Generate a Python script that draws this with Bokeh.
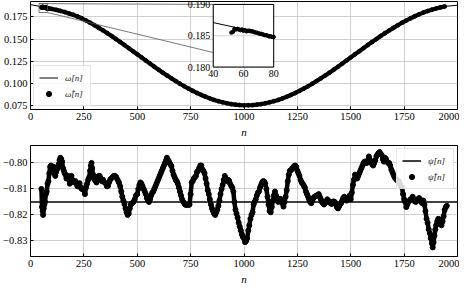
from bokeh.plotting import figure
from bokeh.layouts import column
from bokeh.models import Range1d, FixedTicker, Legend, LegendItem
from bokeh.embed import file_html
from bokeh.resources import INLINE
from bokeh.core.properties import value

# ---------------- data ----------------
# top panel: true frequency omega[n] (line) and estimate (dots)
omega_n = [0, 40, 80, 100, 150, 200, 250, 300, 350, 400, 450, 500, 550, 600, 650, 700,
           750, 800, 850, 900, 950, 1000, 1050, 1100, 1150, 1200, 1250, 1300, 1350, 1400,
           1450, 1500, 1550, 1600, 1650, 1700, 1750, 1800, 1850, 1900, 1950, 2000]
omega = [0.1888, 0.1871, 0.1850, 0.1840, 0.1812, 0.1774, 0.1722, 0.1656, 0.1582, 0.1501,
         0.1416, 0.1329, 0.1241, 0.1155, 0.1073, 0.0998, 0.0930, 0.0871, 0.0824, 0.0788,
         0.0765, 0.0755, 0.0759, 0.0777, 0.0808, 0.0851, 0.0905, 0.0969, 0.1042, 0.1122,
         0.1206, 0.1294, 0.1381, 0.1468, 0.1550, 0.1627, 0.1697, 0.1757, 0.1808, 0.1846,
         0.1871, 0.1882]

omega_hat_n = list(range(52, 81)) + [90] + list(range(100, 1941, 20))
omega_hat = [
    # n = 52 .. 80
    0.1855, 0.1856, 0.1861, 0.1860, 0.1861, 0.1860, 0.1859, 0.1860, 0.1858, 0.1859,
    0.1857, 0.1858, 0.1858, 0.1857, 0.1857, 0.1856, 0.1855, 0.1855, 0.1854, 0.1853,
    0.1853, 0.1852, 0.1851, 0.1851, 0.1850, 0.1849, 0.1849, 0.1848, 0.1848,
    # n = 90
    0.1844,
    # n = 100 .. 1000 step 20
    0.1840, 0.1830, 0.1818, 0.1805, 0.1790, 0.1774, 0.1756, 0.1735, 0.1710, 0.1684,
    0.1656, 0.1627, 0.1598, 0.1567, 0.1535, 0.1501, 0.1468, 0.1434, 0.1399, 0.1364,
    0.1329, 0.1294, 0.1259, 0.1224, 0.1189, 0.1155, 0.1122, 0.1090, 0.1058, 0.1028,
    0.0998, 0.0969, 0.0943, 0.0917, 0.0893, 0.0871, 0.0851, 0.0832, 0.0815, 0.0801,
    0.0788, 0.0777, 0.0768, 0.0762, 0.0757, 0.0755,
    # n = 1020 .. 1940 step 20
    0.0755, 0.0757, 0.0762, 0.0768, 0.0777, 0.0788, 0.0801, 0.0815, 0.0832, 0.0851,
    0.0871, 0.0893, 0.0917, 0.0943, 0.0969, 0.0998, 0.1028, 0.1058, 0.1090, 0.1122,
    0.1155, 0.1189, 0.1224, 0.1259, 0.1294, 0.1329, 0.1364, 0.1399, 0.1434, 0.1468,
    0.1501, 0.1535, 0.1567, 0.1598, 0.1627, 0.1656, 0.1684, 0.1710, 0.1735, 0.1758,
    0.1779, 0.1799, 0.1816, 0.1832, 0.1846, 0.1858, 0.1868,
]

# bottom panel: true phase psi[n] (constant line) and estimate (dots)
psi_value = -0.815
psi_hat_n = [
    51, 54, 57, 59, 62, 65, 68, 72, 76, 80,
    84, 88, 92, 96, 100, 104, 108, 112, 116, 120,
    124, 128, 132, 136, 140, 144, 148, 152, 156, 160,
    164, 168, 172, 176, 180, 184, 188, 192, 196, 200,
    205, 210, 215, 220, 225, 230, 235, 240, 245, 250,
    255, 260, 265, 270, 275, 279, 283, 286, 289, 293,
    297, 301, 305, 309, 314, 319, 324, 329, 334, 340,
    347, 353, 358, 363, 368, 373, 378, 384, 390, 396,
    402, 408, 414, 420, 425, 430, 435, 440, 445, 450,
    455, 460, 465, 470, 476, 482, 488, 494, 500, 505,
    510, 515, 520, 525, 530, 535, 540, 545, 550, 555,
    560, 565, 570, 575, 580, 585, 590, 595, 600, 605,
    610, 615, 620, 625, 630, 635, 639, 643, 647, 651,
    655, 660, 665, 670, 675, 680, 685, 690, 695, 700,
    705, 710, 716, 722, 728, 734, 740, 745, 750, 755,
    760, 765, 770, 775, 780, 785, 790, 795, 800, 805,
    810, 815, 820, 825, 830, 835, 840, 845, 850, 855,
    860, 865, 870, 875, 880, 885, 890, 895, 900, 905,
    910, 915, 920, 925, 930, 935, 940, 945, 950, 955,
    960, 965, 970, 975, 980, 985, 990, 995, 1000, 1005,
] + list(range(1010, 1860, 5)) + [
    1860, 1865, 1870, 1875, 1880, 1884, 1888, 1892, 1896, 1900,
    1905, 1910, 1915, 1920, 1925, 1930, 1935, 1940, 1945, 1950,
]
psi_hat = [
    -0.8100, -0.8170, -0.8185, -0.8200, -0.8175, -0.8160, -0.8150, -0.8120, -0.8110, -0.8080,
    -0.8070, -0.8040, -0.8015, -0.8010, -0.8020, -0.8030, -0.8015, -0.8040, -0.8050, -0.8035,
    -0.8025, -0.8015, -0.8005, -0.7990, -0.7980, -0.7985, -0.7995, -0.8020, -0.8030, -0.8040,
    -0.8045, -0.8060, -0.8055, -0.8050, -0.8065, -0.8080, -0.8060, -0.8050, -0.8065, -0.8070,
    -0.8075, -0.8070, -0.8080, -0.8090, -0.8080, -0.8078, -0.8095, -0.8100, -0.8098, -0.8105,
    -0.8120, -0.8095, -0.8080, -0.8065, -0.8055, -0.8030, -0.8010, -0.8000, -0.8020, -0.8045,
    -0.8060, -0.8065, -0.8070, -0.8075, -0.8060, -0.8050, -0.8050, -0.8060, -0.8070, -0.8065,
    -0.8075, -0.8080, -0.8090, -0.8088, -0.8075, -0.8065, -0.8060, -0.8055, -0.8050, -0.8050,
    -0.8055, -0.8065, -0.8075, -0.8090, -0.8110, -0.8130, -0.8145, -0.8158, -0.8175, -0.8190,
    -0.8200, -0.8195, -0.8175, -0.8160, -0.8155, -0.8150, -0.8140, -0.8125, -0.8120, -0.8100,
    -0.8085, -0.8075, -0.8080, -0.8090, -0.8100, -0.8110, -0.8120, -0.8135, -0.8145, -0.8150,
    -0.8140, -0.8125, -0.8115, -0.8110, -0.8100, -0.8090, -0.8080, -0.8070, -0.8060, -0.8050,
    -0.8040, -0.8030, -0.8020, -0.8010, -0.8000, -0.7990, -0.7980, -0.7988, -0.7992, -0.8000,
    -0.8005, -0.8012, -0.8030, -0.8045, -0.8055, -0.8065, -0.8070, -0.8080, -0.8095, -0.8110,
    -0.8125, -0.8140, -0.8150, -0.8158, -0.8162, -0.8160, -0.8162, -0.8160, -0.8120, -0.8075,
    -0.8070, -0.8060, -0.8055, -0.8050, -0.8035, -0.8030, -0.8020, -0.8010, -0.8010, -0.8025,
    -0.8030, -0.8040, -0.8060, -0.8080, -0.8105, -0.8120, -0.8140, -0.8160, -0.8175, -0.8185,
    -0.8195, -0.8200, -0.8190, -0.8180, -0.8165, -0.8145, -0.8120, -0.8100, -0.8085, -0.8065,
    -0.8050, -0.8060, -0.8070, -0.8065, -0.8068, -0.8080, -0.8088, -0.8095, -0.8110, -0.8150,
    -0.8180, -0.8195, -0.8210, -0.8230, -0.8245, -0.8260, -0.8275, -0.8285, -0.8290, -0.8305,
    # 1010 .. 1855 step 5
    -0.8300, -0.8290, -0.8260, -0.8240, -0.8215, -0.8200, -0.8190, -0.8160, -0.8150, -0.8140,
    -0.8125, -0.8115, -0.8110, -0.8095, -0.8085, -0.8075, -0.8070, -0.8072, -0.8080, -0.8100,
    -0.8130, -0.8160, -0.8185, -0.8190, -0.8170, -0.8145, -0.8125, -0.8110, -0.8125, -0.8140,
    -0.8150, -0.8140, -0.8138, -0.8145, -0.8155, -0.8168, -0.8150, -0.8130, -0.8105, -0.8070,
    -0.8045, -0.8030, -0.8028, -0.8022, -0.8018, -0.8012, -0.8010, -0.8015, -0.8030, -0.8040,
    -0.8050, -0.8065, -0.8075, -0.8080, -0.8088, -0.8095, -0.8110, -0.8120, -0.8130, -0.8140,
    -0.8150, -0.8155, -0.8145, -0.8135, -0.8130, -0.8128, -0.8125, -0.8125, -0.8120, -0.8130,
    -0.8140, -0.8150, -0.8155, -0.8160, -0.8155, -0.8148, -0.8140, -0.8145, -0.8150, -0.8155,
    -0.8158, -0.8150, -0.8148, -0.8150, -0.8160, -0.8170, -0.8175, -0.8168, -0.8160, -0.8155,
    -0.8145, -0.8135, -0.8130, -0.8138, -0.8145, -0.8140, -0.8135, -0.8125, -0.8140, -0.8115,
    -0.8085, -0.8065, -0.8045, -0.8050, -0.8060, -0.8050, -0.8040, -0.8030, -0.8020, -0.8010,
    -0.8000, -0.7995, -0.8000, -0.8000, -0.7990, -0.7975, -0.7988, -0.7995, -0.8005, -0.8010,
    -0.8000, -0.7990, -0.7975, -0.7968, -0.7962, -0.7958, -0.7965, -0.7970, -0.7985, -0.7995,
    -0.7980, -0.7985, -0.7995, -0.8000, -0.8000, -0.8010, -0.8025, -0.8035, -0.8045, -0.8055,
    -0.8060, -0.8065, -0.8068, -0.8070, -0.8080, -0.8090, -0.8095, -0.8120, -0.8140, -0.8150,
    -0.8170, -0.8160, -0.8150, -0.8145, -0.8140, -0.8138, -0.8130, -0.8140, -0.8148, -0.8150,
    -0.8145, -0.8140, -0.8135, -0.8140, -0.8150, -0.8155, -0.8145, -0.8160, -0.8185, -0.8215,
    # 1860 .. 1950
    -0.8230, -0.8255, -0.8270, -0.8290, -0.8310, -0.8325, -0.8305, -0.8280, -0.8256, -0.8240,
    -0.8225, -0.8215, -0.8220, -0.8235, -0.8240, -0.8225, -0.8205, -0.8180, -0.8170, -0.8165,
]

x_ticks = [0, 250, 500, 750, 1000, 1250, 1500, 1750, 2000]
top_y_ticks = [0.075, 0.100, 0.125, 0.150, 0.175]
top_y_labels = ["0.075", "0.100", "0.125", "0.150", "0.175"]
bot_y_ticks = [-0.83, -0.82, -0.81, -0.80]
bot_y_labels = ["\u22120.83", "\u22120.82", "\u22120.81", "\u22120.80"]
inset_x_ticks = [40, 60, 80]
inset_x_labels = ["40", "60", "80"]
inset_y_ticks = [0.180, 0.185, 0.190]
inset_y_labels = ["0.180", "0.185", "0.190"]

# ---------------- styling helpers ----------------
FONT = "'Liberation Serif', serif"
GRID = "#c4c4c4"


def style(p):
    p.outline_line_color = "black"
    p.outline_line_width = 1
    p.outline_line_alpha = 1.0
    p.background_fill_color = "white"
    p.border_fill_color = "white"
    for ax in (p.xaxis[0], p.yaxis[0]):
        ax.axis_line_color = None
        ax.major_tick_in = 3
        ax.major_tick_out = 0
        ax.major_tick_line_color = "black"
        ax.minor_tick_line_color = None
        ax.major_label_text_font = FONT
        ax.major_label_text_font_size = "10.5px"
        ax.major_label_text_color = "black"
        ax.major_label_standoff = 3
    p.xaxis.ticker = FixedTicker(ticks=x_ticks)
    p.xaxis.axis_label = "n"
    p.xaxis.axis_label_text_font = FONT
    p.xaxis.axis_label_text_font_style = "italic"
    p.xaxis.axis_label_text_font_size = "11px"
    p.xaxis.axis_label_standoff = 3
    p.xaxis.axis_label_text_color = "black"
    p.xgrid.grid_line_color = GRID
    p.ygrid.grid_line_color = GRID
    p.xgrid.grid_line_width = 0.8
    p.ygrid.grid_line_width = 0.8


def style_legend(leg):
    leg.label_text_font = FONT
    leg.label_text_font_style = "italic"
    leg.label_text_font_size = "9px"
    leg.label_text_color = "#222222"
    leg.glyph_width = 19
    leg.glyph_height = 13
    leg.label_height = 13
    leg.label_standoff = 7
    leg.spacing = 3
    leg.padding = 5
    leg.margin = 3
    leg.border_line_color = "#cccccc"
    leg.border_line_width = 1
    leg.background_fill_color = "white"
    leg.background_fill_alpha = 0.85


# ---------------- top panel ----------------
p1 = figure(frame_width=427, frame_height=108,
            x_range=Range1d(0, 2000), y_range=Range1d(0.0707, 0.1924),
            output_backend="svg", toolbar_location=None,
            min_border_left=26, min_border_right=2, min_border_top=1, min_border_bottom=0)
style(p1)
p1.yaxis.ticker = FixedTicker(ticks=top_y_ticks)
p1.yaxis.major_label_overrides = dict(zip(top_y_ticks, top_y_labels))

r_om = p1.line(omega_n, omega, line_color="black", line_width=1)
p1.line(omega_hat_n, omega_hat, line_color="black", line_width=4.2)
r_omh = p1.scatter(omega_hat_n, omega_hat, size=3.8, color="black", marker="circle")

# inset placement (in main-plot data units) and zoom window
inset_src_x = Range1d(inset_x_ticks[0], inset_x_ticks[-1])
inset_src_y = Range1d(inset_y_ticks[0], inset_y_ticks[-1])
inset_tgt_x = Range1d(856, 1139)
inset_tgt_y = Range1d(0.1185, 0.1891)

# zoom rectangle and connector lines
p1.quad(left=[inset_src_x.start], right=[inset_src_x.end],
        bottom=[inset_src_y.start], top=[inset_src_y.end],
        fill_color=None, line_color="#555555", line_width=0.8)
p1.segment(x0=[inset_src_x.start, inset_src_x.end], y0=[inset_src_y.end, inset_src_y.start],
           x1=[inset_tgt_x.start, inset_tgt_x.end], y1=[inset_tgt_y.end, inset_tgt_y.start],
           line_color="#555555", line_width=0.8)

ins = p1.subplot(x_source=inset_src_x, y_source=inset_src_y,
                 x_target=inset_tgt_x, y_target=inset_tgt_y)
ins.quad(left=[inset_src_x.start], right=[inset_src_x.end],
         bottom=[inset_src_y.start], top=[inset_src_y.end],
         fill_color="white", line_color=None)
ins.segment(x0=inset_x_ticks, y0=[inset_src_y.start] * 3, x1=inset_x_ticks, y1=[inset_src_y.end] * 3,
            line_color=GRID, line_width=0.8)
ins.segment(x0=[inset_src_x.start] * 3, y0=inset_y_ticks, x1=[inset_src_x.end] * 3, y1=inset_y_ticks,
            line_color=GRID, line_width=0.8)
in_n = [n for n in omega_n if 40 <= n <= 80]
in_w = [w for n, w in zip(omega_n, omega) if 40 <= n <= 80]
ins.line(in_n, in_w, line_color="black", line_width=1)
inh_n = [n for n in omega_hat_n if 40 <= n <= 80]
inh_w = [w for n, w in zip(omega_hat_n, omega_hat) if 40 <= n <= 80]
ins.scatter(inh_n, inh_w, size=3.5, color="black", marker="circle")
ins.quad(left=[inset_src_x.start], right=[inset_src_x.end],
         bottom=[inset_src_y.start], top=[inset_src_y.end],
         fill_color=None, line_color="black", line_width=1)
ins.text(x=inset_x_ticks, y=[inset_src_y.start] * 3, text=inset_x_labels,
         text_align="center", text_baseline="top", y_offset=3,
         text_font=value(FONT), text_font_size="10px", text_color="black")
ins.text(x=[inset_src_x.start] * 3, y=inset_y_ticks, text=inset_y_labels,
         text_align="right", text_baseline="middle", x_offset=-3,
         text_font=value(FONT), text_font_size="10px", text_color="black")

leg1 = Legend(items=[LegendItem(label="\u03c9[n]", renderers=[r_om]),
                     LegendItem(label="\u03c9\u0302[n]", renderers=[r_omh])],
              location="bottom_left")
style_legend(leg1)
p1.add_layout(leg1)

# ---------------- bottom panel ----------------
p2 = figure(frame_width=427, frame_height=111,
            x_range=Range1d(0, 2000), y_range=Range1d(-0.836, -0.7933),
            output_backend="svg", toolbar_location=None,
            min_border_left=26, min_border_right=2, min_border_top=5, min_border_bottom=0)
style(p2)
p2.yaxis.ticker = FixedTicker(ticks=bot_y_ticks)
p2.yaxis.major_label_overrides = dict(zip(bot_y_ticks, bot_y_labels))

r_psi = p2.line([p2.x_range.start, p2.x_range.end], [psi_value, psi_value],
                line_color="black", line_width=1.5)
p2.line(psi_hat_n, psi_hat, line_color="black", line_width=4.5)
r_psih = p2.scatter(psi_hat_n, psi_hat, size=5, color="black", marker="circle")

leg2 = Legend(items=[LegendItem(label="\u03c8[n]", renderers=[r_psi]),
                     LegendItem(label="\u03c8\u0302[n]", renderers=[r_psih])],
              location="top_right")
style_legend(leg2)
p2.add_layout(leg2)

layout = column(p1, p2, spacing=0)
open("out.html", "w").write(file_html(layout, INLINE))
